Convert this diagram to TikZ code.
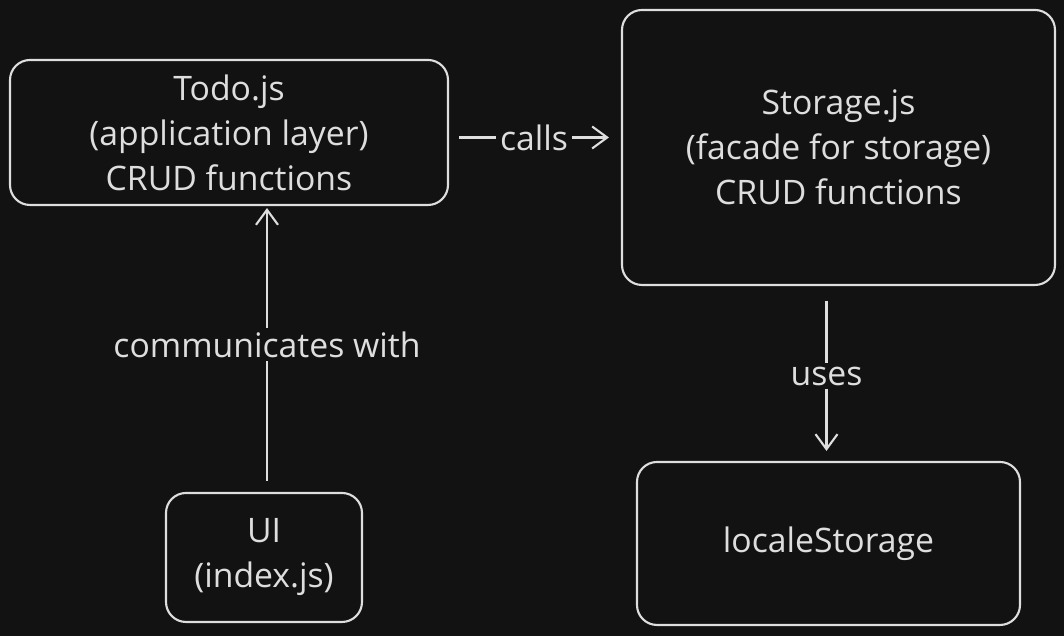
\documentclass[tikz,border=0pt]{standalone}
\usepackage{fontspec}
\setmainfont{Open Sans}
\usetikzlibrary{arrows.meta}
\definecolor{board}{HTML}{121212}
\definecolor{chalk}{HTML}{DEDEDE}

\tikzset{
  box/.style={draw=chalk, line width=0.6pt, rounded corners=0.2cm, text=chalk,
    align=center, font=\fontsize{9.6}{12.8}\selectfont},
  conn/.style={draw=chalk, line width=0.6pt, -{Straight Barb[length=1.5mm,width=2.2mm]}},
  lbl/.style={fill=board, text=chalk, inner sep=1pt, font=\fontsize{9.6}{12.8}\selectfont}
}

\begin{document}
\begin{tikzpicture}[>=latex]

	% background and page size
	\fill[board] (0,0) rectangle (10.64,6.36);
	\useasboundingbox (0,0) rectangle (10.64,6.36);

	% the four boxes
	\node[box, minimum width=4.38cm, minimum height=1.45cm] (todo) at (2.29,5.035)
		{Todo.js\\(application layer)\\CRUD functions};
	\node[box, minimum width=4.33cm, minimum height=2.75cm] (storage) at (8.385,4.885)
		{Storage.js\\(facade for storage)\\CRUD functions};
	\node[box, minimum width=1.96cm, minimum height=1.29cm] (ui) at (2.64,0.785)
		{UI\\(index.js)};
	\node[box, minimum width=3.83cm, minimum height=1.63cm] (locale) at (8.285,0.925)
		{localeStorage};

	% connectors
	\draw[conn] ([xshift=1mm,yshift=-0.5mm]todo.east) -- node[lbl]{calls} ([xshift=-1.2mm,yshift=-0.5mm]todo.east -| storage.west);
	\draw[conn] ([xshift=0.3mm,yshift=1.1mm]ui.north) -- node[lbl]{communicates with} ([xshift=0.3mm,yshift=-0.2mm]ui.north |- todo.south);
	\draw[conn] ([xshift=-0.2mm,yshift=-1.5mm]storage.south -| locale.north) -- node[lbl]{uses} ([xshift=-0.2mm,yshift=1mm]locale.north);

\end{tikzpicture}
\end{document}
